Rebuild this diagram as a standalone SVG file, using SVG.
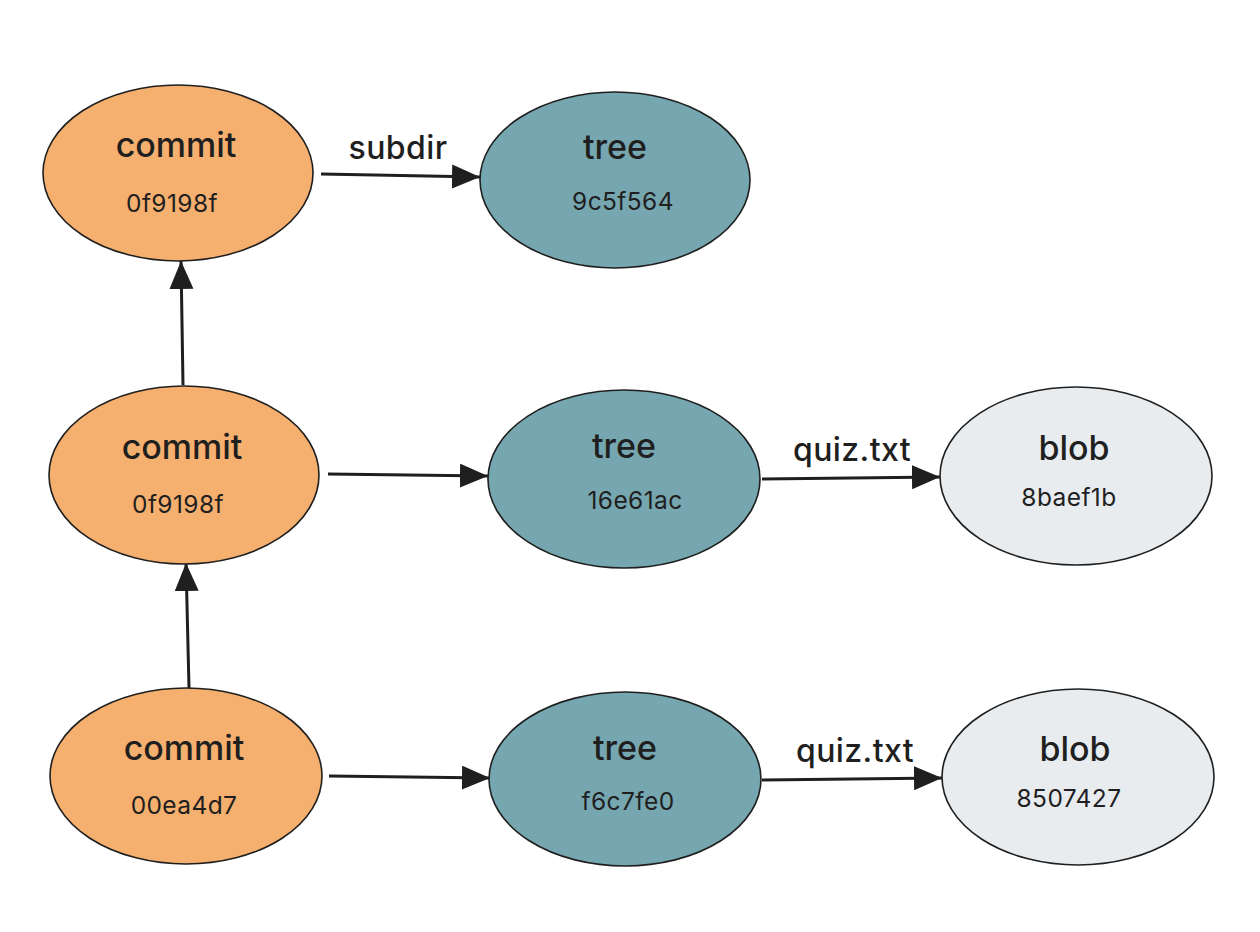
<svg xmlns="http://www.w3.org/2000/svg" width="1260" height="932" viewBox="0 0 1260 932">
  <style>
    .node { stroke: #1f1f1f; stroke-width: 1.6; }
    .commit { fill: #F5AF6E; }
    .tree { fill: #76A6AF; }
    .blob { fill: #E8ECEF; }
    .title { font-family: "Inter", "Open Sans", sans-serif; font-size: 34px; font-weight: 500; fill: #1f1f1f; text-anchor: middle; }
    .hash { font-family: "Inter", "Open Sans", sans-serif; font-size: 24.5px; fill: #1f1f1f; text-anchor: middle; letter-spacing: 0.4px; }
    .edge { stroke: #1f1f1f; stroke-width: 3; fill: none; marker-end: url(#head); }
    .label { font-family: "Inter", "Open Sans", sans-serif; font-size: 32px; font-weight: 500; fill: #1f1f1f; text-anchor: middle; letter-spacing: 0.4px; }
  </style>
  <defs>
    <marker id="head" markerUnits="userSpaceOnUse" markerWidth="30" markerHeight="26" refX="28" refY="12" orient="auto">
      <path d="M0,0 L28,12 L0,24 Z" fill="#1f1f1f"/>
    </marker>
  </defs>
  <rect width="1260" height="932" fill="#ffffff"/>

  <g id="connectors">
    <line class="edge" x1="321" y1="174" x2="480" y2="177"/>
    <line class="edge" x1="328" y1="474" x2="488" y2="476"/>
    <line class="edge" x1="762" y1="479" x2="940" y2="477"/>
    <line class="edge" x1="329" y1="776" x2="490" y2="778"/>
    <line class="edge" x1="762" y1="780" x2="942" y2="778"/>
    <line class="edge" x1="183" y1="385" x2="181" y2="261"/>
    <line class="edge" x1="189" y1="688" x2="186" y2="563"/>
    <text class="label" x="398" y="159">subdir</text>
    <text class="label" x="852" y="461">quiz.txt</text>
    <text class="label" x="855" y="762">quiz.txt</text>
  </g>

  <g id="commit-top">
    <ellipse class="node commit" cx="178" cy="173" rx="135" ry="88"/>
    <text class="title" x="176" y="157">commit</text>
    <text class="hash" x="172" y="212">0f9198f</text>
  </g>
  <g id="tree-top">
    <ellipse class="node tree" cx="615" cy="180" rx="135" ry="88"/>
    <text class="title" x="615" y="159">tree</text>
    <text class="hash" x="623" y="210">9c5f564</text>
  </g>

  <g id="commit-mid">
    <ellipse class="node commit" cx="184" cy="475" rx="135" ry="89"/>
    <text class="title" x="182" y="459">commit</text>
    <text class="hash" x="178" y="513">0f9198f</text>
  </g>
  <g id="tree-mid">
    <ellipse class="node tree" cx="624" cy="479" rx="136" ry="89"/>
    <text class="title" x="624" y="458">tree</text>
    <text class="hash" x="635" y="509">16e61ac</text>
  </g>
  <g id="blob-mid">
    <ellipse class="node blob" cx="1076" cy="476" rx="136" ry="89"/>
    <text class="title" x="1074" y="460">blob</text>
    <text class="hash" x="1069" y="506">8baef1b</text>
  </g>

  <g id="commit-bottom">
    <ellipse class="node commit" cx="186" cy="776" rx="136" ry="88"/>
    <text class="title" x="184" y="760">commit</text>
    <text class="hash" x="184" y="814">00ea4d7</text>
  </g>
  <g id="tree-bottom">
    <ellipse class="node tree" cx="625" cy="779" rx="136" ry="87"/>
    <text class="title" x="625" y="760">tree</text>
    <text class="hash" x="628" y="810">f6c7fe0</text>
  </g>
  <g id="blob-bottom">
    <ellipse class="node blob" cx="1078" cy="777" rx="136" ry="88"/>
    <text class="title" x="1075" y="761">blob</text>
    <text class="hash" x="1069" y="807">8507427</text>
  </g>
</svg>
